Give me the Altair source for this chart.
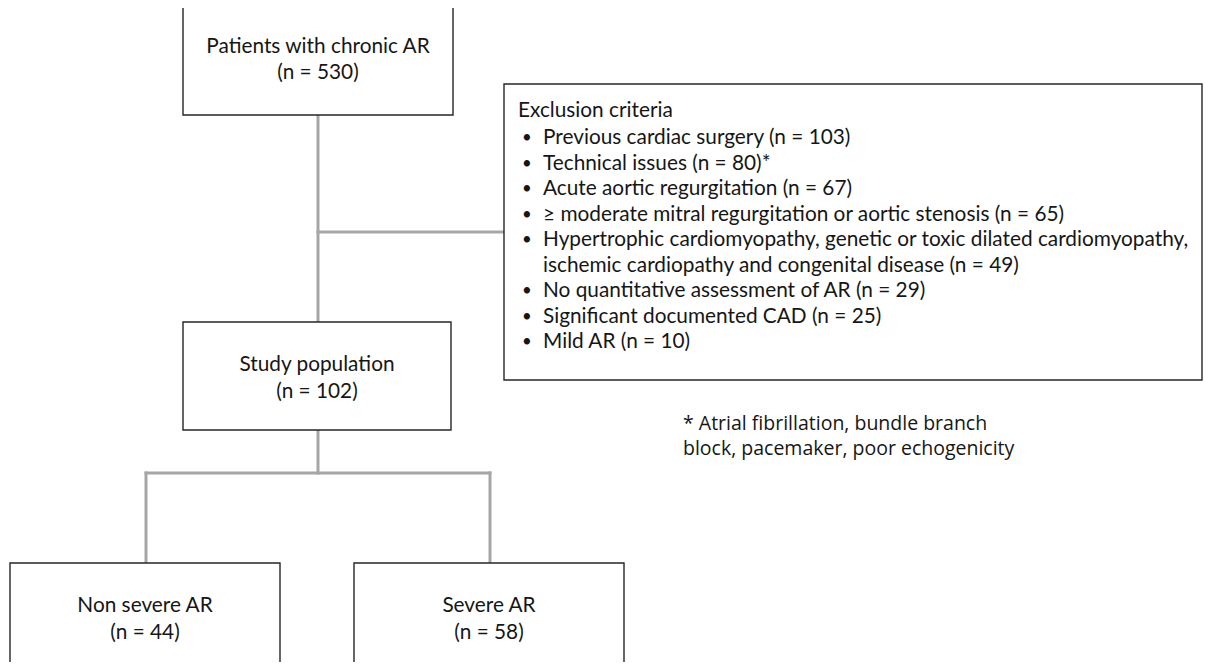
import altair as alt
import pandas as pd

# ---- content ----
box_labels = ["Patients with chronic AR", "Study population", "Non severe AR", "Severe AR"]
box_counts = [530, 102, 44, 58]
exclusion_title = "Exclusion criteria"
exclusion_reasons = [
    ["Previous cardiac surgery (n = 103)"],
    ["Technical issues (n = 80)*"],
    ["Acute aortic regurgitation (n = 67)"],
    ["\u2265 moderate mitral regurgitation or aortic stenosis (n = 65)"],
    ["Hypertrophic cardiomyopathy, genetic or toxic dilated cardiomyopathy,",
     "ischemic cardiopathy and congenital disease (n = 49)"],
    ["No quantitative assessment of AR (n = 29)"],
    ["Significant documented CAD (n = 25)"],
    ["Mild AR (n = 10)"],
]
footnote_lines = ["* Atrial fibrillation, bundle branch", "block, pacemaker, poor echogenicity"]

# ---- layout (page pixel coordinates, y downward) ----
box_x0 = [183, 183, 10, 354]
box_x1 = [453, 451, 280, 624]
box_y0 = [7, 322, 563, 563]
box_y1 = [115, 430, 720, 720]
excl_box = dict(x0=504, x1=1202, y0=84, y1=380)
excl_text_x = 518
bullet_x = 522
item_x = 543
excl_title_y = 111
excl_first_y = 138
excl_step = 25.5
foot_x = 683
foot_y = 424
connectors = [
    (318, 115, 318, 322),
    (318, 232, 504, 232),
    (318, 430, 318, 473),
    (146, 473, 490, 473),
    (146, 473, 146, 563),
    (490, 473, 490, 563),
]

OFF = 8
W, H = 1195, 654
xs = alt.Scale(domain=[OFF, OFF + W], nice=False, zero=False)
ys = alt.Scale(domain=[OFF, OFF + H], nice=False, zero=False, reverse=True)

FONT = "Lato"
FS = 20.8
TXT = "#161616"

# boxes
boxes = pd.DataFrame({"x0": box_x0 + [excl_box["x0"]], "x1": box_x1 + [excl_box["x1"]],
                      "y0": box_y0 + [excl_box["y0"]], "y1": box_y1 + [excl_box["y1"]]})
box_layer = alt.Chart(boxes).mark_rect(fill="white", stroke="#262626", strokeWidth=1.4).encode(
    x=alt.X("x0:Q", scale=xs, axis=None), x2="x1:Q",
    y=alt.Y("y0:Q", scale=ys, axis=None), y2="y1:Q")

# connectors
conn = pd.DataFrame(connectors, columns=["x0", "y0", "x1", "y1"])
conn_layer = alt.Chart(conn).mark_rule(color="#a6a6a6", strokeWidth=3, strokeCap="square").encode(
    x=alt.X("x0:Q", scale=xs, axis=None), x2="x1:Q",
    y=alt.Y("y0:Q", scale=ys, axis=None), y2="y1:Q")

# box texts
rows = []
for lab, n, a, b, t in zip(box_labels, box_counts, box_x0, box_x1, box_y0):
    cx = (a + b) / 2
    off1, off2 = (40, 66) if t < 50 else (42.5, 69.5)
    rows.append({"x": cx, "y": t + off1, "t": lab})
    rows.append({"x": cx, "y": t + off2, "t": f"(n = {n})"})
box_text = alt.Chart(pd.DataFrame(rows)).mark_text(
    font=FONT, fontSize=FS, color=TXT, align="center", baseline="middle").encode(
    x=alt.X("x:Q", scale=xs, axis=None), y=alt.Y("y:Q", scale=ys, axis=None), text="t:N")

# exclusion texts
erows = [{"x": excl_text_x, "y": excl_title_y, "t": exclusion_title}]
brows = []
k = 0
for item in exclusion_reasons:
    y = excl_first_y + excl_step * k
    brows.append({"x": bullet_x, "y": y, "t": "\u2022"})
    for line in item:
        erows.append({"x": item_x, "y": excl_first_y + excl_step * k, "t": line})
        k += 1
excl_text = alt.Chart(pd.DataFrame(erows)).mark_text(
    font=FONT, fontSize=FS, color=TXT, align="left", baseline="middle").encode(
    x=alt.X("x:Q", scale=xs, axis=None), y=alt.Y("y:Q", scale=ys, axis=None), text="t:N")
bullet_text = alt.Chart(pd.DataFrame(brows)).mark_text(
    font=FONT, fontSize=FS - 4, color=TXT, align="left", baseline="middle").encode(
    x=alt.X("x:Q", scale=xs, axis=None), y=alt.Y("y:Q", scale=ys, axis=None), text="t:N")

# footnote (one two-line text)
foot = pd.DataFrame([{"x": foot_x, "y": foot_y, "t": "\n".join(footnote_lines)}])
foot_text = alt.Chart(foot).mark_text(
    font="Open Sans", fontSize=19.5, color=TXT, align="left", baseline="middle",
    lineBreak="\n", lineHeight=25).encode(
    x=alt.X("x:Q", scale=xs, axis=None), y=alt.Y("y:Q", scale=ys, axis=None), text="t:N")

chart = alt.layer(conn_layer, box_layer, box_text, excl_text, bullet_text, foot_text).properties(
    width=W, height=H, padding=0, background="white",
    autosize=alt.AutoSizeParams(type="none")
).configure_view(strokeWidth=0, stroke="transparent")

chart.save("out.html", embed_options={"renderer": "svg", "actions": False})
